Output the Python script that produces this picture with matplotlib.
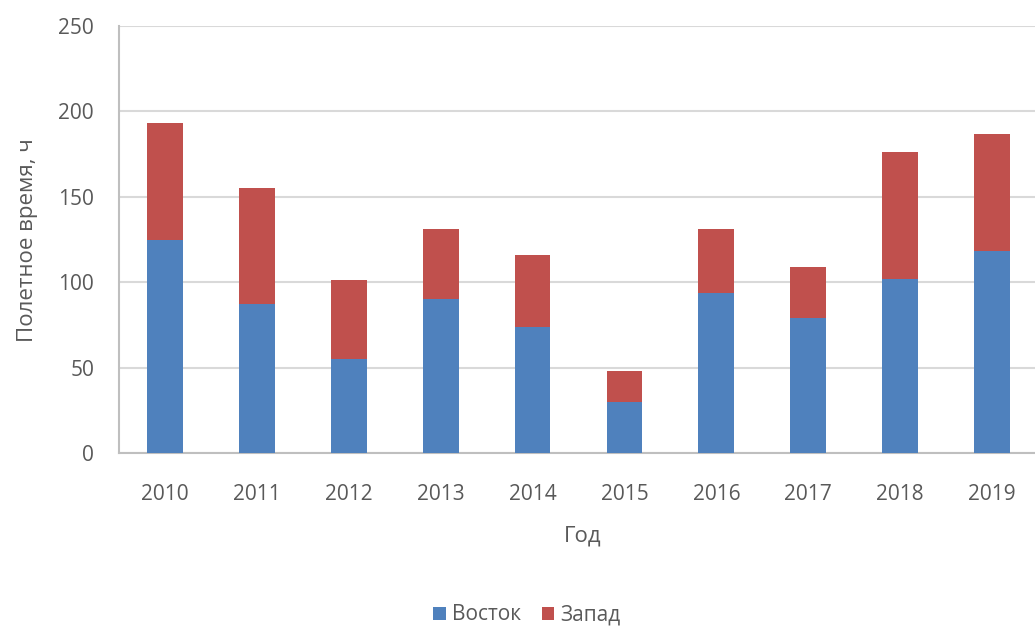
import matplotlib.pyplot as plt
import numpy as np

years = ["2010", "2011", "2012", "2013", "2014", "2015", "2016", "2017", "2018", "2019"]
vostok = [125, 87, 55, 90, 74, 30, 93.5, 79, 102, 118]
zapad = [68, 68, 46, 41, 42, 18, 37.5, 30, 74, 69]

BLUE = "#4F81BD"
RED = "#C0504D"
TEXT = "#595959"
GRID = "#D9D9D9"

plt.rcParams["font.family"] = ["Open Sans", "DejaVu Sans"]

fig = plt.figure(figsize=(10.35, 6.28), dpi=100)
# plot area runs a little past the right edge of the canvas
ax = fig.add_axes([119 / 1035, 1 - 453 / 628, (1038 - 119) / 1035, (453 - 26) / 628])

x = np.arange(len(years))
ax.bar(x, vostok, width=0.39, color=BLUE, label="Восток", zorder=3)
ax.bar(x, zapad, width=0.39, bottom=vostok, color=RED, label="Запад", zorder=3)

ax.set_xlim(-0.5, len(years) - 0.5)
ax.set_ylim(0, 250)
ax.set_yticks(range(0, 251, 50))
ax.set_xticks(x)
ax.set_xticklabels(years)
ax.grid(axis="y", color=GRID, linewidth=1.5, zorder=0)

for side in ("top", "right"):
    ax.spines[side].set_visible(False)
ax.spines["left"].set_color("#BFBFBF")
ax.spines["bottom"].set_color("#BFBFBF")
ax.spines["left"].set_linewidth(1.5)
ax.spines["bottom"].set_linewidth(1.5)

ax.tick_params(axis="both", length=0, labelsize=15, colors=TEXT)
ax.tick_params(axis="y", pad=18)
ax.tick_params(axis="x", pad=22)

ax.set_xlabel("Год", fontsize=16, color=TEXT)
ax.xaxis.set_label_coords((583 - 119) / (1038 - 119), -(526 - 453) / (453 - 26))
ax.set_ylabel("Полетное время, ч", fontsize=16, color=TEXT)
ax.yaxis.set_label_coords(-(119 - 38) / (1038 - 119), (453 - 240) / (453 - 26))

fig.legend(loc="center", bbox_to_anchor=(527 / 1035, 1 - 615 / 628), ncol=2,
           frameon=False, fontsize=15, labelcolor=TEXT, handlelength=0.6,
           handleheight=0.6, handletextpad=0.3, columnspacing=1.0)

fig.savefig("out.png", dpi=100, facecolor="white")
